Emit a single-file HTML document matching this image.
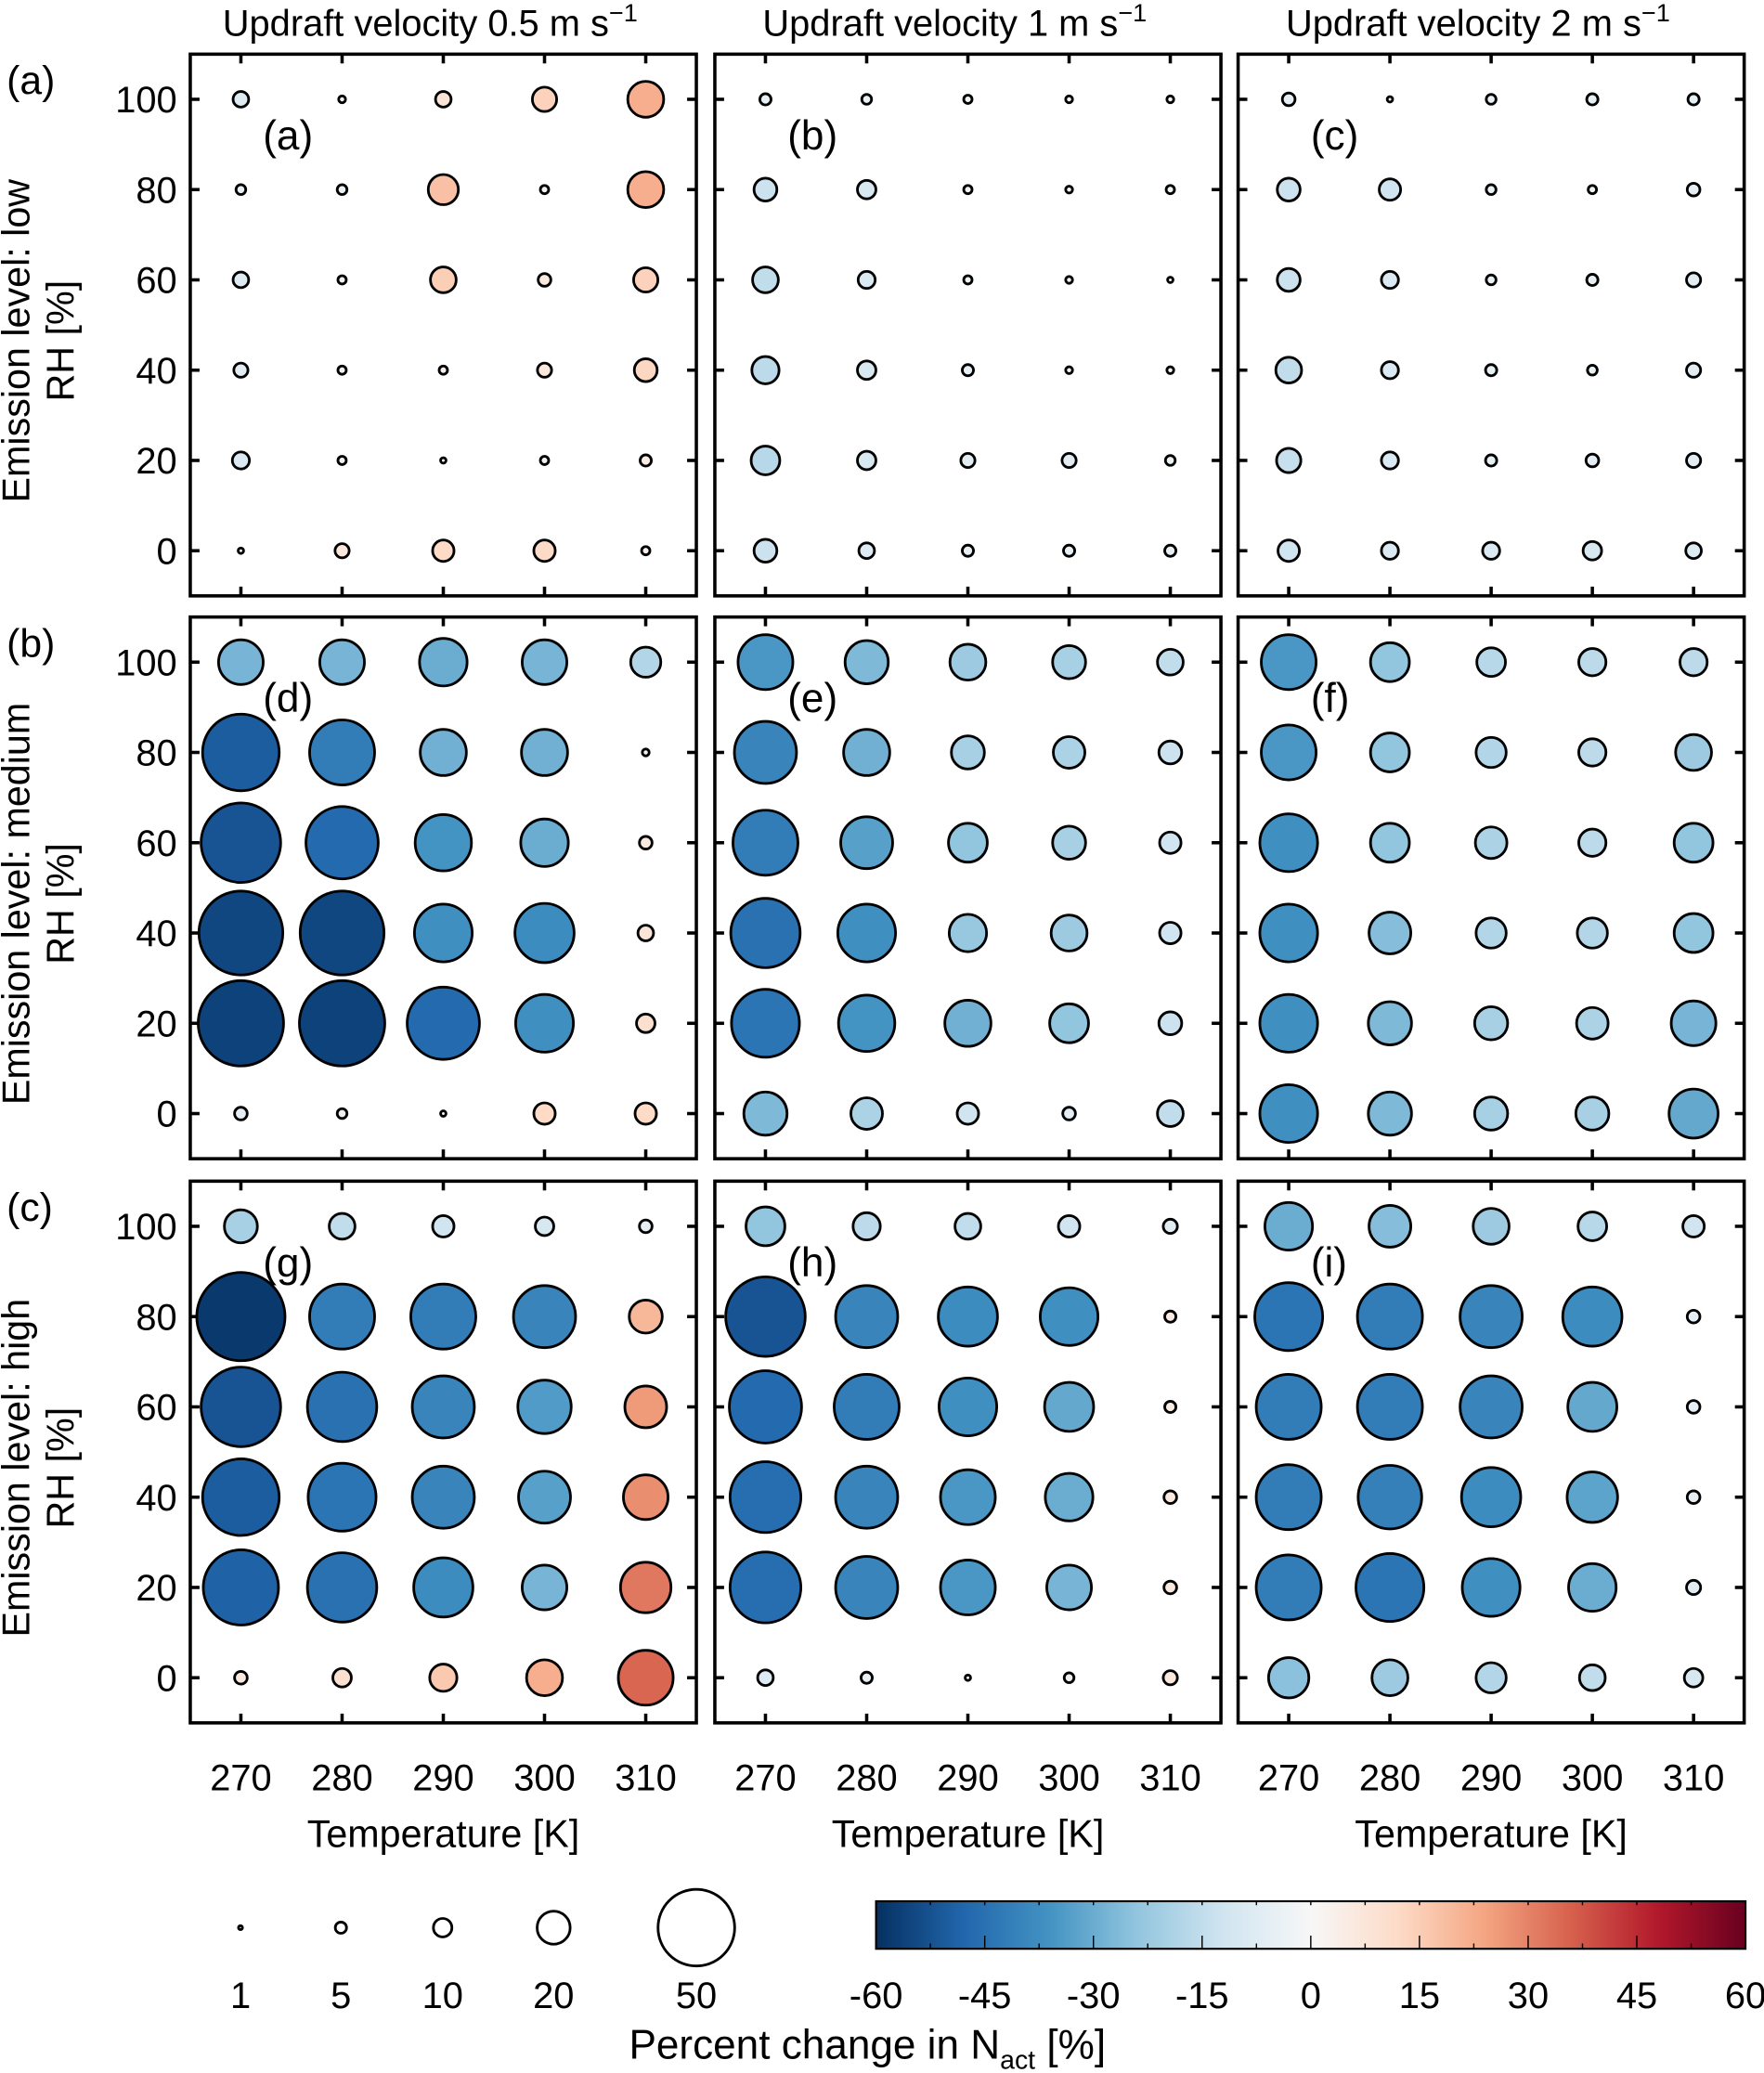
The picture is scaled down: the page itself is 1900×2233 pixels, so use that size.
<!DOCTYPE html>
<html><head><meta charset="utf-8"><style>
html,body{margin:0;padding:0;background:#fff;}
svg{display:block;font-family:"Liberation Sans",Arial,sans-serif;}
</style></head><body>
<svg id="fig" width="1900" height="2233" viewBox="0 0 1335 1569" preserveAspectRatio="none" xmlns="http://www.w3.org/2000/svg"></svg>
<script>
const temps = [270, 280, 290, 300, 310];
const rhs = [100, 80, 60, 40, 20, 0];
const colTitles = ["0.5", "1", "2"];
const rowNames = ["low", "medium", "high"];
const panelLabels = ["(a)","(b)","(c)","(d)","(e)","(f)","(g)","(h)","(i)"];
// values: rows = RH 100..0, cols = T 270..310
const valA = [[-8,-2,8,14,22],[-4,-4,18,-3,22],[-8,-3,15,6,14],[-7,-3,3,7,13],[-9,-3,1,-3,5],[1,7,12,12,3]];
const valB = [[-5,-4,-3,-2,-2],[-13,-10,-3,-2,-3],[-15,-9,-3,-2,-1],[-16,-10,-5,-2,-2],[-17,-10,-7,-7,-4],[-13,-8,-5,-5,-5]];
const valC = [[-6,-1,-4,-5,-5],[-13,-12,-4,-3,-6],[-13,-9,-4,-5,-7],[-15,-9,-5,-4,-7],[-14,-9,-5,-6,-7],[-12,-9,-9,-10,-8]];
const valD = [[-28,-28,-30,-28,-18],[-50,-42,-29,-29,-2],[-52,-47,-36,-30,6],[-55,-55,-37,-38,8],[-56,-56,-47,-37,10],[-6,-4,-1,12,12]];
const valE = [[-35,-27,-22,-20,-15],[-40,-29,-20,-19,-13],[-42,-33,-24,-20,-12],[-45,-37,-23,-22,-12],[-44,-36,-29,-24,-13],[-27,-19,-12,-6,-15]];
const valF = [[-35,-24,-17,-16,-16],[-35,-24,-18,-16,-22],[-37,-24,-19,-16,-24],[-37,-26,-18,-18,-24],[-37,-27,-20,-19,-28],[-37,-27,-20,-20,-31]];
const valG = [[-20,-15,-12,-10,-6],[-58,-42,-42,-40,20],[-52,-45,-40,-34,26],[-50,-44,-40,-33,28],[-49,-45,-38,-28,32],[6,10,16,22,35]];
const valH = [[-24,-16,-15,-12,-7],[-52,-40,-38,-37,5],[-47,-42,-37,-31,5],[-46,-40,-35,-30,6],[-46,-40,-35,-28,6],[-8,-5,-1,-4,7]];
const valI = [[-30,-26,-22,-17,-12],[-44,-42,-40,-38,-6],[-42,-42,-40,-31,-6],[-42,-41,-38,-32,-6],[-42,-44,-37,-30,-7],[-25,-22,-18,-15,-10]];
const panels = [valA,valB,valC,valD,valE,valF,valG,valH,valI];
const sizeLegend = [1,5,10,20,50];
const cbTicks = [-60,-45,-30,-15,0,15,30,45,60];

const NS="http://www.w3.org/2000/svg";
const svg=document.getElementById('fig');
function el(tag,attrs,parent){const e=document.createElementNS(NS,tag);for(const k in attrs)e.setAttribute(k,attrs[k]);(parent||svg).appendChild(e);return e;}
function txt(s,attrs,parent){const t=el('text',attrs,parent);t.textContent=s;return t;}

const stops=[[-60,[5,48,97]],[-48,[33,102,172]],[-36,[67,147,195]],[-24,[146,197,222]],[-12,[209,229,240]],[0,[247,247,247]],[12,[253,219,199]],[24,[244,165,130]],[36,[214,96,77]],[48,[178,24,43]],[60,[103,0,31]]];
function cmap(v){v=Math.max(-60,Math.min(60,v));for(let i=0;i<stops.length-1;i++){const a=stops[i],b=stops[i+1];if(v<=b[0]){const t=(v-a[0])/(b[0]-a[0]);const c=a[1].map((x,j)=>Math.round(x+(b[1][j]-x)*t));return `rgb(${c[0]},${c[1]},${c[2]})`;}}return 'rgb(103,0,31)';}
function rad(v){return 0.55*Math.abs(v)+1.5;}

const colX=[144,541,937], rowY=[41,467,894], PW=383, PH=410;
function xs(c,t){return colX[c]+(t-265)/50*PW;}
function ys(r,h){return rowY[r]+(110-h)/120*PH;}

for(let c=0;c<3;c++){
  const tt=txt("Updraft velocity "+colTitles[c]+" m s",{x:colX[c]+PW/2-10,y:27,'font-size':28,'text-anchor':'middle'});
  
  
  const sup=el('tspan',{dy:-11,'font-size':19});sup.textContent="\u22121";tt.appendChild(sup);
}
for(let r=0;r<3;r++){
  const rl=txt("("+"abc"[r]+")",{x:5,y:rowY[r]+30,'font-size':30});
  
  
  const cy=rowY[r]+PH/2+12;
  const yl=txt("Emission level: "+rowNames[r],{x:0,y:0,'font-size':29,'text-anchor':'middle',transform:`translate(22,${cy}) rotate(-90)`});
  
  
  const yl2=txt("RH [%]",{x:0,y:0,'font-size':29,'text-anchor':'middle',transform:`translate(56,${cy}) rotate(-90)`});
  
  
  for(let c=0;c<3;c++){
    const g=el('g',{});
    
    
    const frame=el('rect',{x:colX[c],y:rowY[r],width:PW,height:PH,fill:'none',stroke:'#000','stroke-width':2.5},g);
    
    
    temps.forEach(t=>{const x=xs(c,t);
      el('line',{x1:x,x2:x,y1:rowY[r],y2:rowY[r]+7,stroke:'#000','stroke-width':2.5},g);
      el('line',{x1:x,x2:x,y1:rowY[r]+PH,y2:rowY[r]+PH-7,stroke:'#000','stroke-width':2.5},g);});
    rhs.forEach(h=>{const y=ys(r,h);
      el('line',{x1:colX[c],x2:colX[c]+7,y1:y,y2:y,stroke:'#000','stroke-width':2.5},g);
      el('line',{x1:colX[c]+PW,x2:colX[c]+PW-7,y1:y,y2:y,stroke:'#000','stroke-width':2.5},g);
      if(c===0){const tl=txt(String(h),{x:134,y:y+10,'font-size':28,'text-anchor':'end'});
        
        }});
    const vals=panels[r*3+c];
    rhs.forEach((h,i)=>temps.forEach((t,j)=>{const v=vals[i][j];
      const ci=el('circle',{cx:xs(c,t),cy:ys(r,h),r:rad(v),fill:cmap(v),stroke:'#000','stroke-width':2},g);
      
      }));
    const pl=txt(panelLabels[r*3+c],{x:colX[c]+55,y:rowY[r]+72,'font-size':31},g);
    
    
  }
}
for(let c=0;c<3;c++){
  temps.forEach(t=>{const tl=txt(String(t),{x:xs(c,t),y:1355,'font-size':28,'text-anchor':'middle'});
    
    });
  const xl=txt("Temperature [K]",{x:colX[c]+PW/2,y:1398,'font-size':29,'text-anchor':'middle'});
  
  
}
// size legend
const slX=[182,258,335,419,527];
sizeLegend.forEach((v,i)=>{
  const ci=el('circle',{cx:slX[i],cy:1459,r:(v===1?1.5:rad(v)),fill:'#fff',stroke:'#000','stroke-width':2});
  
  
  const tl=txt(String(v),{x:slX[i],y:1520,'font-size':28,'text-anchor':'middle'});
  
  
});
// colorbar
const defs=el('defs',{});
const lg=el('linearGradient',{id:'cbg',x1:0,x2:1,y1:0,y2:0},defs);
stops.forEach(s=>el('stop',{offset:(s[0]+60)/120,'stop-color':`rgb(${s[1].join(',')})`},lg));
const cbx=663,cbw=658,cby=1439,cbh=36;
const cb=el('rect',{x:cbx,y:cby,width:cbw,height:cbh,fill:'url(#cbg)',stroke:'#000','stroke-width':1.5});


for(let v=-60;v<=60;v+=7.5){const x=cbx+(v+60)/120*cbw;
  el('line',{x1:x,x2:x,y1:cby,y2:cby+3,stroke:'#000','stroke-width':1});
  el('line',{x1:x,x2:x,y1:cby+cbh,y2:cby+cbh-(v%15===0?10:4),stroke:'#000','stroke-width':1});}
cbTicks.forEach(v=>{const tl=txt(String(v),{x:cbx+(v+60)/120*cbw,y:1520,'font-size':28,'text-anchor':'middle'});
  
  });
const ct=txt("Percent change in N",{x:476,y:1558,'font-size':31});


const sub=el('tspan',{dy:8,'font-size':20});sub.textContent="act";ct.appendChild(sub);
const rest=el('tspan',{dy:-8,'font-size':31});rest.textContent=" [%]";ct.appendChild(rest);
</script>
</body></html>
